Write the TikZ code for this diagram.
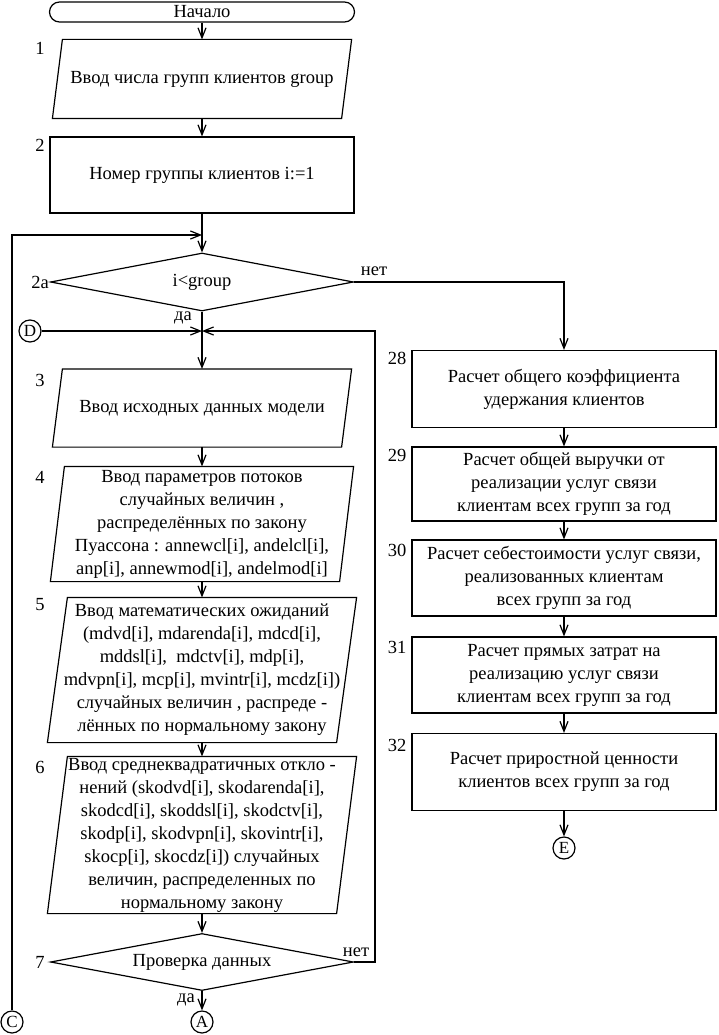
\documentclass[tikz,border=0pt]{standalone}
\usepackage{fontspec}
\setmainfont{Liberation Serif}
\usetikzlibrary{arrows.meta,calc,positioning,shapes.geometric}

\begin{document}
\begin{tikzpicture}[x=1pt,y=-1pt,line width=1.2pt,
    font=\fontsize{18.5}{23}\selectfont,
    box/.style={draw,rectangle,minimum width=304pt,inner sep=0pt,align=center},
    inbox/.style={rectangle,minimum width=288pt,inner sep=0pt,align=center},
    term/.style={draw,rectangle,rounded corners=10pt,minimum width=305pt,minimum height=20pt,inner sep=0pt},
    cond/.style={draw,diamond,shape aspect=5.2,minimum width=303pt,minimum height=58pt,inner sep=0pt},
    conn/.style={draw,circle,minimum size=22pt,inner sep=0pt,font=\fontsize{17}{20}\selectfont},
    arr/.style={-{Straight Barb[length=10pt,width=8pt]}}]
  \useasboundingbox (0,0) rectangle (718,1035);

  % left column
  \node[term] (start) at (202,12) {Начало};
  \node[inbox,minimum height=78pt] (b1) at (202,79) {Ввод числа групп клиентов group};
  \node[box,minimum height=76pt] (b2) at (202,175) {Номер группы клиентов i:=1};
  \node[cond] (d2a) at (202,282) {i<group};
  \node[inbox,minimum height=77pt] (b3) at (202,408) {Ввод исходных данных модели};
  \node[inbox,minimum height=114pt] (b4) at (202,524) {Ввод параметров потоков\\
    случайных величин ,\\ распределённых по закону\\
    Пуассона : annewcl[i], andelcl[i],\\ anp[i], annewmod[i], andelmod[i]};
  \node[inbox,minimum height=144pt] (b5) at (202,670) {Ввод математических ожиданий\\
    (mdvd[i], mdarenda[i], mdcd[i],\\ mddsl[i],\ \ mdctv[i], mdp[i],\\
    mdvpn[i], mcp[i], mvintr[i], mcdz[i])\\ случайных величин , распреде -\\
    лённых по нормальному закону};
  \node[inbox,minimum height=156pt] (b6) at (202,835) {Ввод среднеквадратичных откло -\\
    нений (skodvd[i], skodarenda[i],\\ skodcd[i], skoddsl[i], skodctv[i],\\
    skodp[i], skodvpn[i], skovintr[i],\\ skocp[i], skocdz[i]) случайных\\
    величин, распределенных по\\ нормальному закону};
  \node[cond,minimum height=57pt] (d7) at (202,962) {Проверка данных};
  \node[conn] (A) at (202,1022) {A};
  \node[conn] (C) at (12,1022) {C};
  \node[conn] (D) at (30,331) {D};

  \foreach \nm/\s in {b1/5,b3/5,b4/7,b5/10,b6/10}
    \draw ($(\nm.south west)+(-\s,0)$) -- ($(\nm.north west)+(\s,0)$)
      -- ($(\nm.north east)+(\s,0)$) -- ($(\nm.south east)+(-\s,0)$) -- cycle;

  % right column
  \node[box,minimum height=77pt] (r28) at (564,389) {Расчет общего коэффициента\\ удержания клиентов};
  \node[box,minimum height=74pt] (r29) at (564,484) {Расчет общей выручки от\\
    реализации услуг связи\\ клиентам всех групп за год};
  \node[box,minimum height=76pt] (r30) at (564,578) {Расчет себестоимости услуг связи,\\
    реализованных клиентам\\ всех групп за год};
  \node[box,minimum height=76pt] (r31) at (564,675) {Расчет прямых затрат на\\
    реализацию услуг связи\\ клиентам всех групп за год};
  \node[box,minimum height=77pt] (r32) at (564,772) {Расчет приростной ценности\\
    клиентов всех групп за год};
  \node[conn] (E) at (564,848) {E};

  % block numbers
  \foreach \t/\x/\y [count=\k] in {1/40/48,2/40/145,2а/40/282,3/40/380,4/40/477,
      5/40/605,6/40/767,7/40/962,28/397/358,29/397/455,30/397/550,31/397/647,32/397/745}
    \node (lb\k) at (\x,\y) {\t};
  \node (no1) at (374,271) {нет};
  \node (yes1) at (183,318) {да};
  \node (no7) at (356,952) {нет};
  \node (yes7) at (186,1000) {да};

  \coordinate (j1) at (202,235);
  \coordinate (j2) at (202,331);
  \coordinate (back) at (375,331);

  \draw[arr] (start.south) -- (b1.north);
  \draw[arr] (b1.south) -- (b2.north);
  \draw[arr] (b2.south) -- (d2a.north);
  \draw[arr] (C.north) |- (j1);
  \draw[arr] (d2a.east) -| (r28.north);
  \draw[arr] (d2a.south) -- (b3.north);
  \draw[arr] (D.east) -- (j2);
  \draw[arr] (d7.east) -| (back) -- (j2);
  \foreach \a/\b in {b3/b4,b4/b5,b5/b6,b6/d7,d7/A,r28/r29,r29/r30,r30/r31,r31/r32,r32/E}
    \draw[arr] (\a.south) -- (\b.north);
\end{tikzpicture}
\end{document}
